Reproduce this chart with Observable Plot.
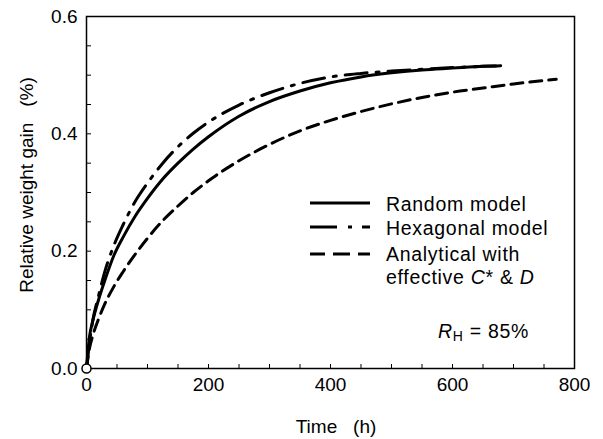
<!DOCTYPE html>
<html><head><meta charset="utf-8">
<script src="https://cdn.jsdelivr.net/npm/d3@7"></script>
<script src="https://cdn.jsdelivr.net/npm/@observablehq/plot@0.6"></script>
<style>
body{margin:0;background:#fff}
#wrap{position:relative;width:603px;height:439px;font-family:"Liberation Sans",Arial,sans-serif}
#overlay{position:absolute;left:0;top:0}
</style>
</head><body><div id="wrap"></div>
<script>
// Random model (solid)
const randomT = [0, 5, 10, 20, 30, 45, 60, 80, 100, 125, 150, 175, 200, 250, 300, 350, 400, 450, 500, 550, 600, 650, 679];
const randomV = [0, 0.055, 0.08, 0.118, 0.15, 0.193, 0.224, 0.26, 0.29, 0.323, 0.35, 0.374, 0.395, 0.43, 0.455, 0.473, 0.487, 0.497, 0.504, 0.509, 0.512, 0.515, 0.516];
// Hexagonal model (dash-dot)
const hexT = [0, 5, 10, 20, 30, 45, 60, 80, 100, 125, 150, 175, 200, 250, 300, 350, 400, 450, 500, 550, 600, 650, 679];
const hexV = [0, 0.045, 0.08, 0.125, 0.165, 0.21, 0.245, 0.285, 0.316, 0.35, 0.378, 0.401, 0.42, 0.449, 0.47, 0.486, 0.497, 0.503, 0.507, 0.51, 0.513, 0.515, 0.516];
// Analytical with effective C* & D (dashed)
const anaT = [0, 5, 10, 20, 30, 45, 60, 80, 100, 125, 150, 175, 200, 250, 300, 350, 400, 450, 500, 550, 600, 650, 700, 770];
const anaV = [0, 0.035, 0.055, 0.085, 0.11, 0.14, 0.165, 0.195, 0.222, 0.252, 0.277, 0.3, 0.32, 0.354, 0.382, 0.405, 0.423, 0.438, 0.451, 0.462, 0.471, 0.478, 0.485, 0.493];

const xTicks = [0, 50, 100, 150, 200, 250, 300, 350, 400, 450, 500, 550, 600, 650, 700, 750, 800];
const xLabels = [0, 200, 400, 600, 800];
const yTicks = [0, 0.05, 0.1, 0.15, 0.2, 0.25, 0.3, 0.35, 0.4, 0.45, 0.5, 0.55, 0.6];
const yLabels = [0, 0.2, 0.4, 0.6];
const origin = [{t: 0, v: 0}];

const toRows = (ts, vs) => ts.map((t, i) => ({t, v: vs[i]}));
const random = toRows(randomT, randomV);
const hex = toRows(hexT, hexV);
const ana = toRows(anaT, anaV);

const plot = Plot.plot({
  width: 603, height: 439,
  marginLeft: 86, marginRight: 29, marginTop: 16, marginBottom: 71,
  style: {fontFamily: '"Liberation Sans", Arial, sans-serif', fontSize: "19px", color: "#000", background: "#fff", overflow: "visible"},
  x: {domain: [0, 800]},
  y: {domain: [0, 0.6]},
  marks: [
    Plot.line(ana, {x: "t", y: "v", stroke: "#000", strokeWidth: 3, strokeDasharray: "12,7", curve: "monotone-x"}),
    Plot.line(hex, {x: "t", y: "v", stroke: "#000", strokeWidth: 3, strokeDasharray: "22,9,3,9", curve: "monotone-x"}),
    Plot.line(random, {x: "t", y: "v", stroke: "#000", strokeWidth: 3, curve: "monotone-x"}),
    Plot.frame({stroke: "#000", strokeWidth: 1.5}),
    Plot.axisX({ticks: xTicks, tickSize: -4, tickFormat: () => "", label: null}),
    Plot.axisX({ticks: xLabels, tickSize: 0, tickPadding: 9, tickFormat: d3.format("d"), label: null}),
    Plot.axisY({ticks: yTicks, tickSize: -5, tickFormat: () => "", label: null}),
    Plot.axisY({ticks: yLabels, tickSize: 0, tickPadding: 9, tickFormat: d3.format(".1f"), label: null}),
    Plot.dot(origin, {x: "t", y: "v", r: 4.5, fill: "#fff", stroke: "#000", strokeWidth: 1.5})
  ]
});
const wrap = document.getElementById("wrap");
wrap.appendChild(plot);

const ns = "http://www.w3.org/2000/svg";
const ov = document.createElementNS(ns, "svg");
ov.setAttribute("id", "overlay");
ov.setAttribute("width", 603);
ov.setAttribute("height", 439);
ov.innerHTML = `
<g font-family='"Liberation Sans", Arial, sans-serif' font-size="19" fill="#000">
  <text x="336" y="433" text-anchor="middle">Time\u00a0\u00a0\u00a0(h)</text>
  <text transform="translate(33,185) rotate(-90)" text-anchor="middle">Relative weight gain\u00a0\u00a0\u00a0(%)</text>
  <line x1="310" x2="370" y1="203" y2="203" stroke="#000" stroke-width="3"/>
  <line x1="310" x2="370" y1="227" y2="227" stroke="#000" stroke-width="3" stroke-dasharray="27,11,4,10,8"/>
  <line x1="310" x2="370" y1="254" y2="254" stroke="#000" stroke-width="3" stroke-dasharray="15,8,17,8,12"/>
  <g letter-spacing="0.7" font-size="19.5">
  <text x="386" y="211">Random model</text>
  <text x="386" y="235">Hexagonal model</text>
  <text x="386" y="261">Analytical with</text>
  <text x="386" y="284">effective <tspan font-style="italic">C</tspan>* &amp; <tspan font-style="italic">D</tspan></text>
  <text x="438" y="338"><tspan font-style="italic">R</tspan><tspan font-size="14" dy="3">H</tspan><tspan dy="-3"> = 85%</tspan></text>
  </g>
</g>`;
wrap.appendChild(ov);
</script>
</body></html>
